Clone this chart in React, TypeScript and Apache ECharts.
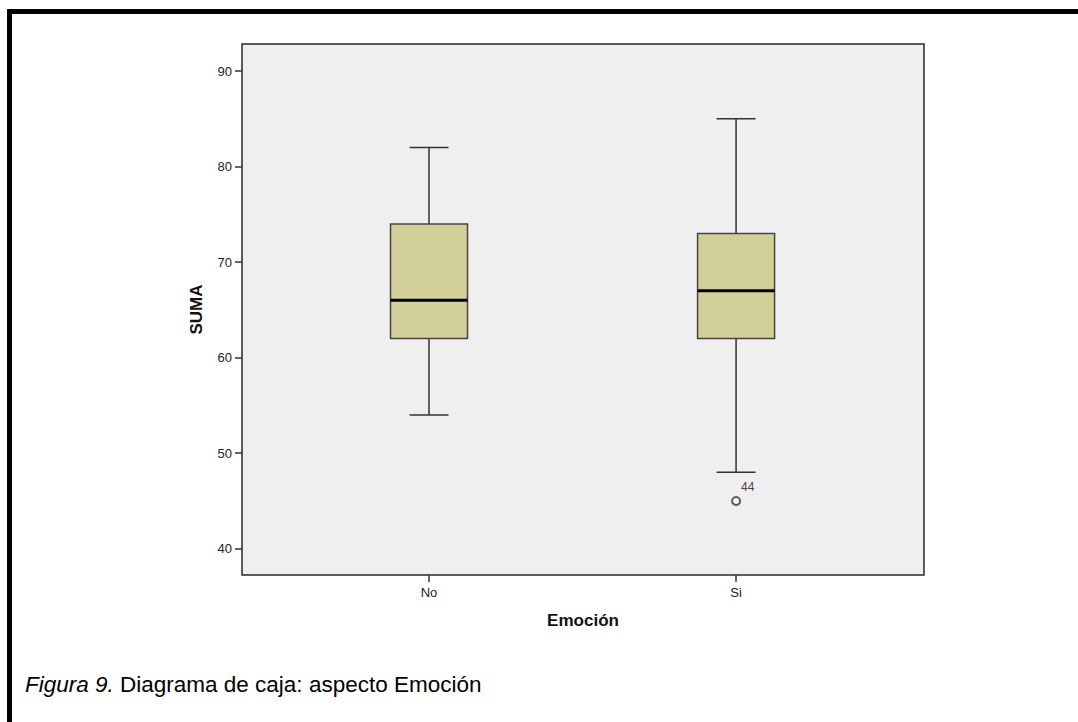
import React, { useEffect, useRef } from "react";
import * as echarts from "echarts";

const categories = ["No", "Si"];
// [lowWhisker, Q1, median, Q3, highWhisker]
const boxValues = [
  [54, 62, 66, 74, 82],
  [48, 62, 67, 73, 85],
];
const outliers = [{ cat: 2, value: 45, label: "44" }];
const yTicks = [40, 50, 60, 70, 80, 90];

export default function App() {
  const ref = useRef<HTMLDivElement>(null);
  useEffect(() => {
    if (!ref.current) return;
    const chart = echarts.init(ref.current, null, { renderer: "svg" });
    const font = "'Liberation Sans', Arial, sans-serif";
    const boxData = boxValues.map((v, i) => [i + 1, ...v]);
    chart.setOption({
      animation: false,
      backgroundColor: "#ffffff",
      grid: {
        left: 242,
        top: 44,
        width: 682,
        height: 531,
        show: true,
        backgroundColor: "#efefef",
        borderColor: "#2a2a2a",
        borderWidth: 1.5,
      },
      xAxis: {
        type: "value",
        min: 0.391,
        max: 2.612,
        splitLine: { show: false },
        axisLine: { show: false },
        axisTick: {
          show: true,
          customValues: [1, 2],
          length: 7,
          lineStyle: { color: "#333", width: 1.5 },
        },
        axisLabel: {
          customValues: [1, 2],
          formatter: (v: number) => categories[Math.round(v) - 1] ?? "",
          color: "#222",
          fontFamily: font,
          fontSize: 13,
          margin: 11,
        },
        name: "Emoción",
        nameLocation: "middle",
        nameGap: 37,
        nameTextStyle: { fontFamily: font, fontWeight: "bold", fontSize: 17, color: "#111" },
      },
      yAxis: {
        type: "value",
        min: 37.25,
        max: 92.83,
        splitLine: { show: false },
        axisLine: { show: false },
        axisTick: {
          show: true,
          customValues: yTicks,
          length: 7,
          lineStyle: { color: "#333", width: 1.5 },
        },
        axisLabel: {
          customValues: yTicks,
          color: "#222",
          fontFamily: font,
          fontSize: 13,
          margin: 10,
        },
        name: "SUMA",
        nameLocation: "middle",
        nameGap: 37,
        nameRotate: 90,
        nameTextStyle: { fontFamily: font, fontWeight: "bold", fontSize: 17, color: "#111" },
      },
      series: [
        {
          type: "custom",
          data: boxData,
          encode: { x: 0, y: [1, 2, 3, 4, 5] },
          renderItem: (params: any, api: any) => {
            const x = api.value(0);
            const lo = api.coord([x, api.value(1)]);
            const q1 = api.coord([x, api.value(2)]);
            const med = api.coord([x, api.value(3)]);
            const q3 = api.coord([x, api.value(4)]);
            const hi = api.coord([x, api.value(5)]);
            const cx = lo[0];
            const hw = 38.5;
            const cw = 19.5;
            const lineStyle = { stroke: "#333", lineWidth: 1.5 };
            return {
              type: "group",
              children: [
                { type: "line", shape: { x1: cx, y1: hi[1], x2: cx, y2: q3[1] }, style: lineStyle },
                { type: "line", shape: { x1: cx, y1: q1[1], x2: cx, y2: lo[1] }, style: lineStyle },
                { type: "line", shape: { x1: cx - cw, y1: hi[1], x2: cx + cw, y2: hi[1] }, style: lineStyle },
                { type: "line", shape: { x1: cx - cw, y1: lo[1], x2: cx + cw, y2: lo[1] }, style: lineStyle },
                {
                  type: "rect",
                  shape: { x: cx - hw, y: q3[1], width: hw * 2, height: q1[1] - q3[1] },
                  style: { fill: "#d3cf98", stroke: "#444", lineWidth: 1.5 },
                },
                {
                  type: "line",
                  shape: { x1: cx - hw, y1: med[1], x2: cx + hw, y2: med[1] },
                  style: { stroke: "#000", lineWidth: 3 },
                },
              ],
            };
          },
        },
        {
          type: "scatter",
          data: outliers.map((o) => ({ value: [o.cat, o.value], name: o.label })),
          symbol: "emptyCircle",
          symbolSize: 8,
          itemStyle: { color: "#333", borderColor: "#333", borderWidth: 1.5 },
          label: {
            show: true,
            formatter: (p: any) => p.name,
            position: [10, -15],
            color: "#111",
            fontFamily: font,
            fontSize: 12,
          },
        },
      ],
      graphic: [
        { type: "rect", shape: { x: 7, y: 9, width: 1080, height: 5 }, style: { fill: "#000" } },
        { type: "rect", shape: { x: 7, y: 9, width: 5, height: 720 }, style: { fill: "#000" } },
        {
          type: "text",
          x: 25,
          y: 684,
          style: {
            text: "{i|Figura 9.} Diagrama de caja: aspecto Emoción",
            verticalAlign: "middle",
            fontFamily: font,
            fontSize: 22.5,
            fill: "#000",
            rich: {
              i: { fontStyle: "italic", fontFamily: font, fontSize: 22.5, fill: "#000" },
            },
          },
        },
      ],
    });
    return () => chart.dispose();
  }, []);
  return (
    <div
      ref={ref}
      style={{ position: "fixed", left: 0, top: 0, width: 1078, height: 722 }}
    />
  );
}
